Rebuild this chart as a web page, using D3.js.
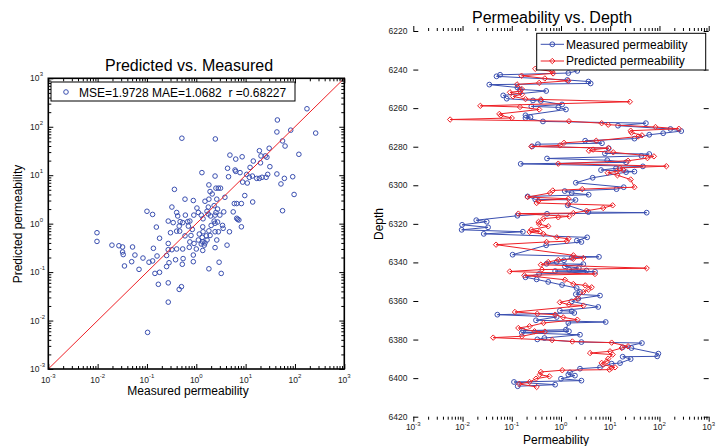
<!DOCTYPE html>
<html>
<head>
<meta charset="utf-8">
<script src="https://cdn.jsdelivr.net/npm/d3@7/dist/d3.min.js"></script>
<style>
    body { margin: 0; background: #fff; }
    svg { font-family: "Liberation Sans", Arial, sans-serif; }
</style>
</head>
<body>
<div id="chart"></div>
<script>
/*
two panels: predicted vs measured scatter, permeability vs depth
 */

//scatter (left panel):
var scatterMeasured = [175, 44, 43, 82, 263, 0.51, 2.43, 56, 63, 30, 19, 120, 4.8, 6.3, 8.5, 20.5, 25, 27, 14.3, 31,
    12.3, 4.3, 6.1, 20, 1.3, 2.4, 4.5, 6.3, 7.7, 10.5, 11.9, 13.7, 16.8, 19, 21.5, 10.8, 8.7, 26, 28, 43,
    61, 90, 52, 96, 56, 1.8, 2.5, 2.8, 3.1, 1.9, 2.1, 0.36, 0.59, 0.87, 1.5, 1.8, 2.6, 3.8, 5.9, 6.6,
    8.2, 9.6, 13.9, 0.32, 1.03, 1.75, 2.3, 2.7, 1.65, 1.1, 2.5, 3.6, 5.6, 0.10, 0.13, 0.40, 0.42, 0.60, 0.89, 1.26,
    1.75, 1.95, 2.4, 3.0, 6.6, 6.9, 7.3, 0.27, 0.34, 0.47, 0.53, 0.67, 0.74, 1.37, 2.3, 2.7, 2.4, 2.0, 3.4, 3.5,
    8.2, 0.155, 0.45, 0.69, 1.35, 0.40, 0.46, 0.83, 1.37, 1.8, 2.4, 2.8, 4.7, 1.15, 1.6, 1.9, 0.59, 0.78, 1.32, 0.0097,
    0.0097, 0.18, 0.30, 1.1, 1.35, 1.5, 1.65, 0.74, 0.90, 0.72, 1.26, 1.45, 2.6, 4.2, 0.27, 0.135, 0.40, 0.53, 1.0, 1.35,
    2.4, 0.0195, 0.027, 0.032, 0.051, 0.057, 0.032, 0.033, 0.083, 0.049, 0.035, 0.069, 0.11, 0.13, 0.16, 0.25, 0.27, 0.32, 0.38, 0.54,
    0.52, 0.87, 0.87, 1.8, 2.9, 3.2, 0.145, 0.18, 0.28, 0.25, 0.17, 0.27, 0.45, 0.50, 0.27, 0.103];
var scatterPredicted = [235, 138, 78, 85, 74, 58, 56, 51, 40, 36, 32, 27, 26, 21.5, 24, 25, 25, 23.5, 19.6, 15,
    14.5, 13.9, 12.8, 18, 11.3, 9.6, 9.3, 12, 11.3, 10.4, 9.05, 9.6, 8.6, 8.6, 9.05, 6.9, 7.2, 9.05, 10.4, 10.6,
    8.6, 9.3, 6.6, 4.0, 1.85, 6.3, 5.4, 5.4, 5.4, 4.6, 4.1, 5.1, 3.2, 3.0, 2.9, 3.2, 3.2, 3.5, 2.6, 2.6,
    2.6, 3.8, 2.8, 2.2, 2.1, 2.2, 2.35, 2.0, 1.8, 1.7, 1.7, 1.75, 1.75, 1.8, 1.55, 1.7, 1.44, 1.5, 1.5, 1.5,
    1.58, 1.44, 1.5, 1.5, 1.29, 1.23, 1.19, 1.13, 1.05, 1.1, 1.05, 1.1, 1.13, 1.26, 1.13, 1.08, 1.02, 0.92, 0.92, 0.80,
    0.86, 0.85, 0.89, 0.89, 0.86, 0.70, 0.70, 0.76, 0.68, 0.71, 0.68, 0.68, 0.68, 0.61, 0.56, 0.57, 0.56, 0.57, 0.52, 0.65,
    0.43, 0.50, 0.65, 0.46, 0.42, 0.40, 0.46, 0.42, 0.39, 0.325, 0.38, 0.36, 0.46, 0.36, 0.39, 0.31, 0.30, 0.30, 0.30, 0.28,
    0.32, 0.36, 0.35, 0.33, 0.33, 0.225, 0.26, 0.23, 0.195, 0.164, 0.134, 0.114, 0.16, 0.17, 0.215, 0.22, 0.29, 0.29, 0.18, 0.19,
    0.145, 0.225, 0.164, 0.117, 0.16, 0.094, 0.094, 0.099, 0.156, 0.13, 0.056, 0.06, 0.044, 0.050, 0.024, 0.0057];
var statsText = "MSE=1.9728 MAE=1.0682  r =0.68227";

//depth profiles (right panel):
var measuredDepth = [6240.7, 6241.8, 6242.7, 6243.5, 6245.4, 6246.2, 6247.2, 6247.8, 6249.3, 6250.3, 6251.1, 6253.4, 6255.1, 6256.0, 6256.3,
    6258.1, 6259.1, 6259.6, 6260.7, 6263.7, 6264.7, 6265.1, 6266.9, 6267.8, 6269.1, 6270.8, 6271.9, 6273.0, 6273.8, 6275.8,
    6276.9, 6278.2, 6278.7, 6279.8, 6280.8, 6283.5, 6283.8, 6284.8, 6286.1, 6287.0, 6288.1, 6288.9, 6290.2, 6291.2, 6292.1,
    6292.9, 6293.2, 6296.1, 6298.7, 6301.0, 6302.0, 6303.0, 6304.0, 6304.9, 6305.8, 6307.3, 6307.6, 6310.4, 6313.9, 6314.2,
    6314.8, 6315.8, 6318.1, 6318.9, 6320.5, 6321.8, 6323.1, 6324.1, 6325.2, 6327.0, 6328.7, 6329.4, 6331.1, 6336.0, 6337.1,
    6337.6, 6338.9, 6339.8, 6340.7, 6340.9, 6342.0, 6342.9, 6343.8, 6344.2, 6344.5, 6344.8, 6346.0, 6347.7, 6348.8, 6350.1,
    6351.7, 6353.3, 6355.3, 6356.5, 6357.2, 6358.8, 6360.2, 6363.1, 6365.0, 6365.3, 6366.2, 6367.1, 6368.3, 6370.0, 6370.9,
    6371.4, 6374.9, 6375.4, 6375.7, 6376.5, 6377.5, 6379.2, 6379.9, 6381.3, 6381.8, 6384.0, 6384.4, 6387.3, 6388.7, 6388.9,
    6390.1, 6392.2, 6392.5, 6394.4, 6395.1, 6397.0, 6398.2, 6398.7, 6400.3, 6401.3, 6402.0, 6403.4, 6404.2];
var measuredPerm = [2.14, 1.41, 0.058, 0.049, 1.34, 3.6, 4.0, 0.035, 0.13, 0.147, 0.50, 0.067, 0.079, 0.27, 0.39,
    1.05, 0.25, 0.88, 1.26, 0.19, 0.24, 0.19, 0.43, 53, 14.4, 167, 277, 119, 62, 31,
    3.1, 6.8, 0.34, 0.26, 9.3, 7.8, 62, 43, 0.52, 8.7, 21, 0.152, 46, 13.1, 6.5,
    31, 21, 4.4, 2.0, 18.8, 13.4, 1.19, 1.65, 3.65, 0.21, 0.30, 1.97, 1.37, 3.6, 55,
    0.52, 0.13, 0.019, 0.031, 0.0098, 0.033, 0.0096, 0.168, 0.027, 3.4, 2.1, 2.6, 0.50, 0.104, 5.9,
    1.65, 1.15, 0.82, 0.51, 2.84, 1.2, 2.3, 1.47, 3.3, 0.76, 4.9, 0.36, 0.19, 0.32, 0.55,
    1.05, 2.08, 2.43, 2.0, 6.2, 2.25, 1.65, 5.7, 0.95, 1.65, 1.86, 0.051, 0.82, 0.31, 8.1,
    1.41, 1.26, 0.17, 1.45, 0.16, 2.43, 0.46, 0.33, 2.6, 44, 17.9, 27, 95, 90, 17.9,
    26, 15.8, 10.7, 6.2, 2.43, 1.52, 1.41, 1.92, 1.0, 2.6, 0.111, 0.76, 0.132];
var predictedDepth = [6239.6, 6241.0, 6242.0, 6243.2, 6244.6, 6245.8, 6246.9, 6247.7, 6250.1, 6251.2, 6251.8, 6252.8, 6253.9, 6255.3, 6255.5,
    6256.7, 6258.8, 6259.4, 6260.7, 6263.0, 6263.8, 6265.1, 6265.9, 6266.8, 6267.8, 6268.6, 6269.8, 6270.7, 6271.7, 6272.7,
    6274.1, 6274.7, 6276.9, 6278.0, 6279.3, 6279.9, 6280.7, 6281.5, 6282.1, 6282.9, 6285.0, 6285.9, 6287.3, 6288.8, 6290.1,
    6291.0, 6292.1, 6292.8, 6293.5, 6294.8, 6297.0, 6301.0, 6302.0, 6302.7, 6304.0, 6306.1, 6307.0, 6308.0, 6309.2, 6309.7,
    6310.4, 6311.8, 6313.2, 6314.4, 6314.7, 6316.1, 6316.6, 6317.3, 6319.0, 6320.1, 6321.3, 6323.0, 6323.9, 6324.2, 6325.3,
    6327.0, 6327.7, 6329.0, 6329.4, 6330.8, 6336.3, 6337.7, 6338.1, 6338.7, 6339.8, 6341.2, 6343.0, 6343.7, 6344.7, 6346.0,
    6346.7, 6349.0, 6351.2, 6351.9, 6352.9, 6354.1, 6355.3, 6358.8, 6360.7, 6361.9, 6362.4, 6365.7, 6366.6, 6367.1, 6368.5,
    6369.7, 6371.4, 6373.1, 6374.0, 6375.7, 6375.9, 6378.3, 6379.0, 6380.3, 6381.0, 6381.6, 6383.5, 6384.4, 6386.1, 6387.0,
    6387.8, 6389.9, 6391.3, 6392.1, 6393.0, 6394.4, 6394.7, 6395.6, 6395.9, 6396.8, 6398.2, 6399.1, 6400.3, 6402.0, 6403.0,
    6404.6];
var predictedPerm = [0.30, 0.66, 0.69, 0.158, 0.47, 1.41, 0.36, 0.128, 0.16, 0.147, 0.092, 0.16, 0.106, 0.19, 0.39,
    25, 0.023, 0.147, 0.36, 0.056, 0.060, 0.10, 0.0056, 1.45, 6.7, 9.1, 83, 247, 26, 27,
    44, 37, 5.2, 1.15, 0.95, 0.25, 9.2, 4.5, 3.7, 11.5, 77, 57, 23, 0.88, 138,
    15.8, 18.4, 13.5, 8.9, 14, 26, 31, 2.7, 0.68, 0.6, 0.21, 1.41, 0.35, 0.32, 1.41,
    11.2, 7.2, 3.3, 1.78, 0.136, 1.47, 0.88, 0.44, 0.35, 0.36, 0.55, 0.25, 0.37, 0.23, 0.44,
    0.82, 1.41, 1.31, 0.51, 0.048, 1.78, 2.84, 1.78, 0.88, 0.55, 0.39, 55, 0.41, 0.091, 4.9,
    0.18, 1.2, 1.78, 3.1, 4.2, 3.6, 2.84, 2.14, 0.95, 1.45, 2.84, 0.116, 0.33, 0.76, 1.11,
    2.14, 0.44, 0.23, 0.136, 0.29, 0.47, 0.16, 0.042, 0.66, 1.7, 10.7, 23, 17.1, 9.9, 3.9,
    11.2, 9.1, 8.5, 6.7, 7.2, 12.5, 10.7, 9.6, 1.06, 0.39, 0.37, 0.58, 0.31, 0.23, 0.142,
    0.32];

//ticks:
var decadeTicks = [1e-3, 1e-2, 1e-1, 1e0, 1e1, 1e2, 1e3];
var depthTicks = [6220, 6240, 6260, 6280, 6300, 6320, 6340, 6360, 6380, 6400, 6420];

var blue = "#3a4fb0";
var red = "#ee2026";

var svg = d3.select("#chart")
    .append("svg")
    .attr("width", 722)
    .attr("height", 446);

//minor ticks 2..9 inside each decade
var minorTicks = [];
decadeTicks.slice(0, -1).forEach(function (d) {
    for (var k = 2; k < 10; k++) minorTicks.push(d * k);
});

function expText(d) {
    return String(Math.round(Math.log10(d)));
}

// draws inward ticks on all four sides + box
function frame(g, x, y, xMajor, xMinor, yMajor, yMinor) {
    var x0 = x.range()[0], x1 = x.range()[1];
    var yb = y.range()[0], yt = y.range()[1];
    var sides = [
        [d3.axisBottom(x), "translate(0," + yb + ")", xMajor, xMinor],
        [d3.axisTop(x), "translate(0," + yt + ")", xMajor, xMinor],
        [d3.axisLeft(y), "translate(" + x0 + ",0)", yMajor, yMinor],
        [d3.axisRight(y), "translate(" + x1 + ",0)", yMajor, yMinor]
    ];
    sides.forEach(function (s) {
        var ax = g.append("g").attr("transform", s[1])
            .call(s[0].tickValues(s[2]).tickSizeInner(-5).tickSizeOuter(0).tickFormat(""));
        ax.select(".domain").remove();
        ax.selectAll("text").remove();
        if (s[3].length) {
            var mi = g.append("g").attr("transform", s[1])
                .call(s[0].tickValues(s[3]).tickSizeInner(-3).tickSizeOuter(0).tickFormat(""));
            mi.select(".domain").remove();
            mi.selectAll("text").remove();
        }
    });
    g.selectAll(".tick line").attr("stroke", "#000").attr("stroke-width", 1);
    g.append("rect")
        .attr("x", x0).attr("y", yt)
        .attr("width", x1 - x0).attr("height", yb - yt)
        .attr("fill", "none").attr("stroke", "#000").attr("stroke-width", 1.6);
}

function bottomLogLabels(g, x, yPos) {
    g.selectAll(".xl").data(decadeTicks).enter().append("text")
        .attr("x", function (d) { return x(d); })
        .attr("y", yPos)
        .attr("text-anchor", "middle")
        .attr("font-size", 8.5)
        .attr("fill", "#222")
        .each(function (d) {
            var t = d3.select(this);
            t.append("tspan").text("10");
            t.append("tspan").attr("dy", -4.5).attr("font-size", 6).text(expText(d));
        });
}

/*
left panel
 */
var left = svg.append("g");
var lx = d3.scaleLog().domain([1e-3, 1e3]).range([48.3, 344.3]);
var ly = d3.scaleLog().domain([1e-3, 1e3]).range([369, 78.3]);

left.selectAll(".dot")
    .data(scatterMeasured)
    .enter().append("circle")
    .attr("class", "dot")
    .attr("cx", function (d) { return lx(d); })
    .attr("cy", function (d, i) { return ly(scatterPredicted[i]); })
    .attr("r", 2.3)
    .attr("fill", "none")
    .attr("stroke", blue)
    .attr("stroke-width", 1);

//1:1 line
left.append("line")
    .attr("x1", lx(1e-3)).attr("y1", ly(1e-3))
    .attr("x2", lx(1e3)).attr("y2", ly(1e3))
    .attr("stroke", red).attr("stroke-width", 1);

frame(left, lx, ly, decadeTicks, minorTicks, decadeTicks, minorTicks);
bottomLogLabels(left, lx, 382.5);

left.selectAll(".yl").data(decadeTicks).enter().append("text")
    .attr("x", 39.5)
    .attr("y", function (d) { return ly(d) + 3; })
    .attr("text-anchor", "end")
    .attr("font-size", 8.5)
    .attr("fill", "#222")
    .text("10");
left.selectAll(".ye").data(decadeTicks).enter().append("text")
    .attr("x", 39.8)
    .attr("y", function (d) { return ly(d) - 2; })
    .attr("font-size", 6)
    .attr("fill", "#222")
    .text(expText);

left.append("text").attr("x", 189).attr("y", 71).attr("text-anchor", "middle")
    .attr("font-size", 16).text("Predicted vs. Measured");
left.append("text").attr("x", 188).attr("y", 395).attr("text-anchor", "middle")
    .attr("font-size", 12).text("Measured permeability");
left.append("text").attr("transform", "translate(22,224) rotate(-90)").attr("text-anchor", "middle")
    .attr("font-size", 12).text("Predicted permeability");

//legend
var lg = left.append("g");
lg.append("rect").attr("x", 51).attr("y", 82).attr("width", 244).attr("height", 19)
    .attr("fill", "#fff").attr("stroke", "#000").attr("stroke-width", 1);
lg.append("circle").attr("cx", 66).attr("cy", 92).attr("r", 2.3)
    .attr("fill", "none").attr("stroke", blue);
lg.append("text").attr("x", 79).attr("y", 96.5).attr("font-size", 12)
    .style("white-space", "pre").text(statsText);

/*
right panel
 */
var right = svg.append("g");
var rx = d3.scaleLog().domain([1e-3, 1e3]).range([413.3, 708.7]);
var ry = d3.scaleLinear().domain([6220, 6420]).range([31, 416.7]);

var measured = measuredDepth.map(function (d, i) { return {depth: d, perm: measuredPerm[i]}; });
var predicted = predictedDepth.map(function (d, i) { return {depth: d, perm: predictedPerm[i]}; });

var line = d3.line()
    .x(function (d) { return rx(d.perm); })
    .y(function (d) { return ry(d.depth); });

function diamond(d) {
    var cx = rx(d.perm), cy = ry(d.depth), r = 2.7;
    return "M" + cx + "," + (cy - r) + "L" + (cx + r) + "," + cy + "L" + cx + "," + (cy + r) + "L" + (cx - r) + "," + cy + "Z";
}

right.append("path").datum(measured).attr("d", line)
    .attr("fill", "none").attr("stroke", blue).attr("stroke-width", 1);
right.selectAll(".m").data(measured).enter().append("circle")
    .attr("cx", function (d) { return rx(d.perm); })
    .attr("cy", function (d) { return ry(d.depth); })
    .attr("r", 2.4)
    .attr("fill", "none").attr("stroke", blue).attr("stroke-width", 1);

right.append("path").datum(predicted).attr("d", line)
    .attr("fill", "none").attr("stroke", red).attr("stroke-width", 1);
right.selectAll(".p").data(predicted).enter().append("path")
    .attr("d", diamond)
    .attr("fill", "none").attr("stroke", red).attr("stroke-width", 1);

frame(right, rx, ry, decadeTicks, minorTicks, depthTicks, []);
bottomLogLabels(right, rx, 430);

right.selectAll(".dl").data(depthTicks).enter().append("text")
    .attr("x", 407.5)
    .attr("y", function (d) { return ry(d) + 3; })
    .attr("text-anchor", "end")
    .attr("font-size", 8.5)
    .attr("fill", "#222")
    .text(function (d) { return d; });

right.append("text").attr("x", 552).attr("y", 23).attr("text-anchor", "middle")
    .attr("font-size", 16).text("Permeability vs. Depth");
right.append("text").attr("x", 556).attr("y", 443.5).attr("text-anchor", "middle")
    .attr("font-size", 12).text("Permeability");
right.append("text").attr("transform", "translate(383,224) rotate(-90)").attr("text-anchor", "middle")
    .attr("font-size", 12).text("Depth");

//legend
var rg = right.append("g");
rg.append("rect").attr("x", 536.7).attr("y", 33.3).attr("width", 169).attr("height", 36.7)
    .attr("fill", "#fff").attr("stroke", "#000").attr("stroke-width", 1);
[["Measured permeability", blue, 44.3], ["Predicted permeability", red, 61]].forEach(function (e, i) {
    rg.append("line").attr("x1", 540.7).attr("x2", 564).attr("y1", e[2]).attr("y2", e[2])
        .attr("stroke", e[1]).attr("stroke-width", 1);
    if (i === 0) {
        rg.append("circle").attr("cx", 552.3).attr("cy", e[2]).attr("r", 2.4)
            .attr("fill", "none").attr("stroke", e[1]);
    } else {
        var r = 2.7;
        rg.append("path").attr("d", "M552.3," + (e[2] - r) + "l" + r + "," + r + "l" + (-r) + "," + r + "l" + (-r) + "," + (-r) + "Z")
            .attr("fill", "none").attr("stroke", e[1]);
    }
    rg.append("text").attr("x", 566).attr("y", e[2] + 4.3).attr("font-size", 12).text(e[0]);
});
</script>
</body>
</html>
